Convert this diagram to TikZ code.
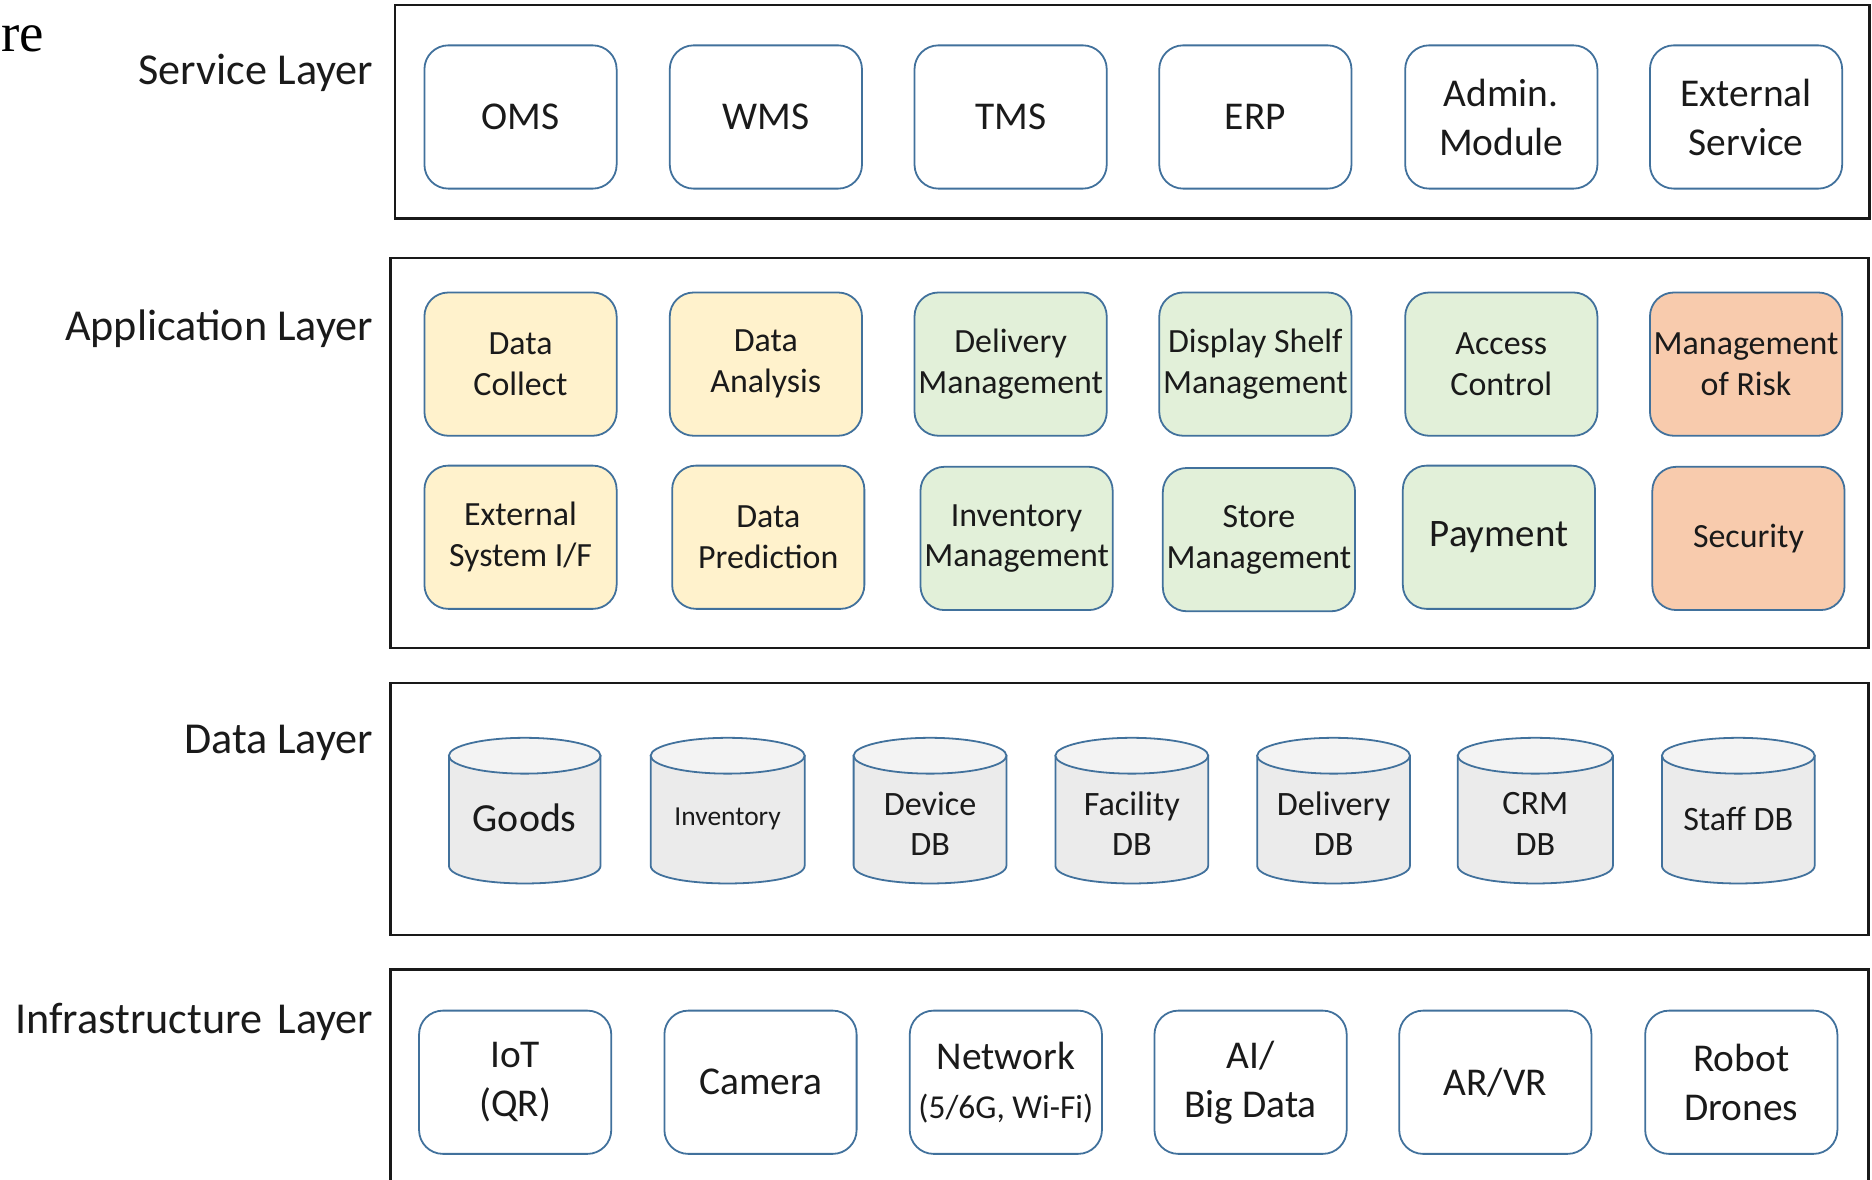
\documentclass[tikz,border=0pt]{standalone}
\usepackage{fontspec}
\setmainfont{Carlito}
\newfontfamily\serifre{Liberation Serif}
\definecolor{bordc}{HTML}{41719C}
\definecolor{txt}{HTML}{1A1A1A}
\definecolor{yelf}{HTML}{FFF2CC}
\definecolor{grnf}{HTML}{E2F0D9}
\definecolor{salf}{HTML}{F8CBAD}
\definecolor{cylb}{HTML}{EBEBEB}
\definecolor{cylt}{HTML}{F3F3F3}
\tikzset{
  layerbox/.style={draw=black!90, line width=1pt, inner sep=0pt},
  cbox/.style={draw=bordc, line width=0.75pt, rounded corners=10pt, minimum width=80.5pt, minimum height=60pt, inner sep=0pt, align=center, text=txt},
  svcf/.style={font=\fontsize{16.5}{20.5}\selectfont},
  appf/.style={font=\fontsize{14.2}{17}\selectfont},
  svcbox/.style={cbox, svcf, fill=white},
  appY/.style={cbox, appf, fill=yelf},
  appG/.style={cbox, appf, fill=grnf},
  appR/.style={cbox, appf, fill=salf},
  lbl/.style={anchor=base east, font=\fontsize{18.5}{22}\selectfont, text=txt, inner sep=0pt},
  cylbody/.style={fill=cylb, draw=bordc, line width=0.75pt},
  cyltop/.style={fill=cylt, draw=bordc, line width=0.75pt},
  cyltext/.style={align=center, text=txt, inner sep=0pt, font=\fontsize{14.3}{17}\selectfont},
}
\newcommand\dbcyl[6]{%
  \path[cylbody] (#2,633) -- (#2,725) .. controls (#2,745) and (#3,745) .. (#3,725) -- (#3,633) -- cycle;
  \path[cyltop] ({(#2+#3)/2},633) ellipse [x radius={(#3-#2)/2}, y radius=15];
  \node[cyltext, #5] (#1) at ({(#2+#3)/2},#6) {#4};
}
\begin{document}
\begin{tikzpicture}[x=0.5pt,y=-0.5pt]
\clip (0,0) rectangle (1568,988);
\fill[white] (0,0) rectangle (1568,988);

% cut-off title
\node[anchor=base west, inner sep=0pt, font=\serifre\fontsize{23}{23}\selectfont, text=black] (title) at (1,43) {re};

% layer labels
\node[lbl] (lserv) at (313,71) {Service Layer};
\node[lbl] (lapp) at (313,285) {Application Layer};
\node[lbl] (ldata) at (313,631) {Data Layer};
\node[lbl] (linfra) at (313,866) {Infrastructure\hspace{0.12em} Layer};

% layer boxes
\node[layerbox, minimum width=617.5pt, minimum height=89.5pt] (servL) at (948.5,93.5) {};
\node[layerbox, minimum width=619pt, minimum height=163.5pt] (appL) at (946,379.5) {};
\node[layerbox, minimum width=619pt, minimum height=105.5pt] (dataL) at (946,677.5) {};
\node[layerbox, minimum width=619pt, minimum height=99pt] (infraL) at (946,911) {};

% service layer
\node[svcbox] (oms) at (436,98) {OMS};
\node[svcbox] (wms) at (641.5,98) {WMS};
\node[svcbox] (tms) at (846.5,98) {TMS};
\node[svcbox] (erp) at (1051.5,98) {ERP};
\node[svcbox] (adm) at (1257.5,98) {Admin.\\Module};
\node[svcbox] (ext) at (1462.5,98) {External\\Service};

% application layer row 1
\node[appY] (dcol) at (436,305) {Data\\Collect};
\node[appY] (dana) at (641.5,305) {Data\\Analysis};
\node[appG] (delm) at (846.5,305) {Delivery\\Management};
\node[appG] (dism) at (1051.5,305) {Display Shelf\\Management};
\node[appG] (acc) at (1257.5,305) {Access\\Control};
\node[appR] (risk) at (1462.5,305) {Management\\of Risk};
% application layer row 2
\node[appY] (exts) at (436,450) {External\\System I/F};
\node[appY] (dpre) at (643.5,450) {Data\\Prediction};
\node[appG] (invm) at (851.5,451) {Inventory\\Management};
\node[appG] (stom) at (1054.5,452) {Store\\Management};
\node[appG, font=\fontsize{16.3}{19}\selectfont] (pay) at (1255.5,450) {Payment};
\node[appR] (sec) at (1464.5,451) {Security};

% data layer
\dbcyl{goods}{376}{503}{Goods}{font=\fontsize{16.7}{20}\selectfont}{685}
\dbcyl{invdb}{545}{674}{Inventory}{font=\fontsize{11.5}{14}\selectfont}{686}
\dbcyl{devdb}{715}{843}{Device\\DB}{}{690}
\dbcyl{facdb}{884}{1012}{Facility\\DB}{}{690}
\dbcyl{deldb}{1053}{1181}{Delivery\\DB}{}{690}
\dbcyl{crmdb}{1221}{1351}{CRM\\DB}{}{690}
\dbcyl{stfdb}{1392}{1520}{Staff DB}{}{686}

% infrastructure layer
\node[svcbox] (iot) at (431.5,906.5) {IoT\\(QR)};
\node[svcbox] (cam) at (637,906.5) {Camera};
\node[svcbox] (net) at (842.5,906.5) {Network\\{\fontsize{14}{17}\selectfont (5/6G, Wi-Fi)}};
\node[svcbox] (ai) at (1047.5,906.5) {AI/\\Big Data};
\node[svcbox] (arvr) at (1252.5,906.5) {AR/VR};
\node[svcbox] (robot) at (1458.5,906.5) {Robot\\Drones};
\end{tikzpicture}
\end{document}
